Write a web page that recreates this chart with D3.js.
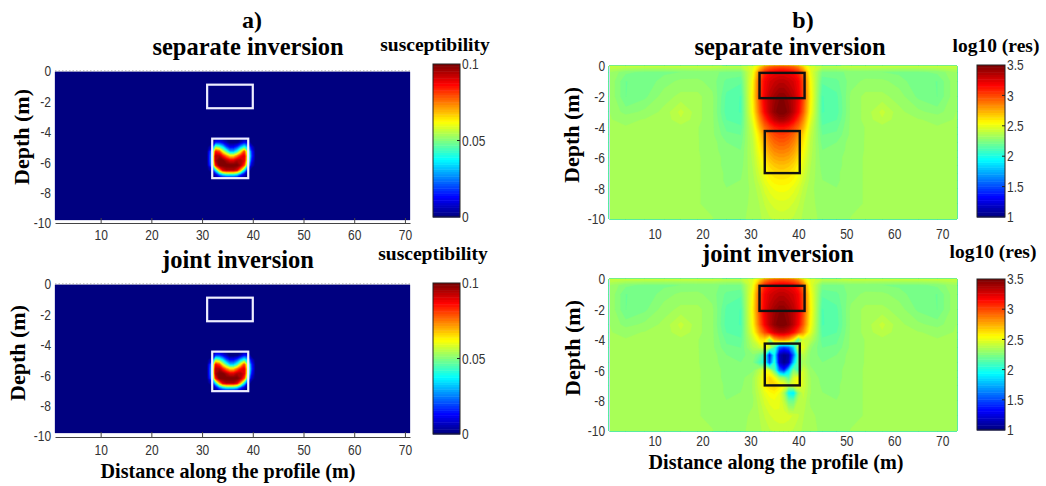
<!DOCTYPE html>
<html>
<head>
<meta charset="utf-8">
<script src="https://cdn.jsdelivr.net/npm/d3@7"></script>
<style>
  body { margin: 0; background: #fff; }
  svg text { font-family: "Liberation Serif", "Times New Roman", serif; }
  .tick text, .cb-label {
    font-family: "Liberation Sans", Arial, sans-serif;
    font-size: 15px;
    fill: #333;
    transform: scaleX(0.8);
    transform-box: fill-box;
  }
  .x-ax .tick text { transform-origin: center; }
  .y-ax .tick text { transform-origin: right; }
  .cb-label { transform-origin: left; }
</style>
</head>
<body>
<svg id="chart" width="1046" height="486"></svg>
<script>
// ---- data ----
// susceptibility model (SI), rows follow suscDepth, columns follow suscX
const suscX = [1, 31, 32, 32.7, 33.4, 34.1, 34.8, 35.5, 36.2, 36.9, 37.6, 38.3, 39, 39.7, 40.5, 71];
const suscDepth = [-0.05, -4.3, -4.7, -5.0, -5.3, -5.6, -5.9, -6.2, -6.5, -6.8, -7.1, -9.8];
const suscSeparate = [
  [0, 0, 0, 0, 0, 0, 0, 0, 0, 0, 0, 0, 0, 0, 0, 0],
  [0, 0, 0, 0, 0, 0, 0, 0, 0, 0, 0, 0, 0, 0, 0, 0],
  [0, 0, 0, 0.015, 0.015, 0.01, 0.005, 0, 0, 0, 0.005, 0.012, 0.01, 0, 0, 0],
  [0, 0, 0.01, 0.05, 0.045, 0.035, 0.02, 0.012, 0.012, 0.018, 0.03, 0.04, 0.03, 0.01, 0, 0],
  [0, 0, 0.03, 0.085, 0.08, 0.06, 0.045, 0.03, 0.03, 0.04, 0.06, 0.08, 0.05, 0.018, 0, 0],
  [0, 0, 0.035, 0.095, 0.095, 0.085, 0.075, 0.065, 0.065, 0.075, 0.085, 0.09, 0.055, 0.02, 0, 0],
  [0, 0, 0.035, 0.095, 0.1, 0.1, 0.095, 0.09, 0.09, 0.095, 0.095, 0.09, 0.05, 0.015, 0, 0],
  [0, 0, 0.03, 0.085, 0.1, 0.1, 0.1, 0.1, 0.1, 0.1, 0.095, 0.08, 0.035, 0.008, 0, 0],
  [0, 0, 0.01, 0.04, 0.07, 0.09, 0.095, 0.095, 0.095, 0.09, 0.07, 0.04, 0.012, 0, 0, 0],
  [0, 0, 0, 0.01, 0.025, 0.035, 0.04, 0.04, 0.04, 0.035, 0.02, 0.01, 0, 0, 0, 0],
  [0, 0, 0, 0, 0, 0, 0, 0, 0, 0, 0, 0, 0, 0, 0, 0],
  [0, 0, 0, 0, 0, 0, 0, 0, 0, 0, 0, 0, 0, 0, 0, 0]
];
const suscJoint = [
  [0, 0, 0, 0, 0, 0, 0, 0, 0, 0, 0, 0, 0, 0, 0, 0],
  [0, 0, 0, 0, 0, 0, 0, 0, 0, 0, 0, 0, 0, 0, 0, 0],
  [0, 0, 0, 0.018, 0.018, 0.012, 0.006, 0, 0, 0, 0.006, 0.014, 0.012, 0, 0, 0],
  [0, 0, 0.01, 0.052, 0.047, 0.036, 0.022, 0.014, 0.014, 0.02, 0.032, 0.042, 0.032, 0.01, 0, 0],
  [0, 0, 0.03, 0.086, 0.08, 0.06, 0.045, 0.032, 0.032, 0.042, 0.062, 0.08, 0.05, 0.018, 0, 0],
  [0, 0, 0.035, 0.095, 0.095, 0.085, 0.075, 0.066, 0.066, 0.076, 0.086, 0.09, 0.055, 0.02, 0, 0],
  [0, 0, 0.035, 0.095, 0.1, 0.1, 0.095, 0.09, 0.09, 0.095, 0.095, 0.09, 0.05, 0.015, 0, 0],
  [0, 0, 0.03, 0.085, 0.1, 0.1, 0.1, 0.1, 0.1, 0.1, 0.095, 0.08, 0.035, 0.008, 0, 0],
  [0, 0, 0.01, 0.04, 0.07, 0.09, 0.095, 0.095, 0.095, 0.09, 0.07, 0.04, 0.012, 0, 0, 0],
  [0, 0, 0, 0.01, 0.025, 0.035, 0.04, 0.04, 0.04, 0.035, 0.02, 0.01, 0, 0, 0, 0],
  [0, 0, 0, 0, 0, 0, 0, 0, 0, 0, 0, 0, 0, 0, 0, 0],
  [0, 0, 0, 0, 0, 0, 0, 0, 0, 0, 0, 0, 0, 0, 0, 0]
];

// log10 resistivity model, rows follow resDepth, columns follow resX
const resX = [0.5, 4, 8, 12, 15.5, 19, 22, 25, 28, 30.5, 32, 33, 34, 35, 36, 37, 38, 39, 40, 41, 42.5, 45, 48, 51, 54, 57.5, 61, 65, 69, 73.1];
const resDepth = [0, -0.4, -1, -2, -3, -3.5, -4, -4.5, -5, -5.5, -6, -6.5, -7, -7.5, -8, -9, -10];
const resSeparate = [
  [2.42,2.42,2.42,2.42,2.42,2.42,2.42,2.40,2.40,2.48,2.65,2.80,2.88,2.92,2.94,2.94,2.92,2.88,2.80,2.65,2.48,2.40,2.40,2.42,2.42,2.42,2.42,2.42,2.42,2.42],
  [2.33,2.26,2.24,2.24,2.25,2.26,2.26,2.24,2.24,2.50,2.90,3.08,3.16,3.20,3.22,3.22,3.20,3.16,3.08,2.90,2.50,2.24,2.24,2.26,2.26,2.25,2.24,2.24,2.26,2.33],
  [2.33,2.21,2.22,2.27,2.30,2.30,2.27,2.20,2.18,2.55,3.00,3.18,3.26,3.30,3.33,3.33,3.30,3.26,3.18,3.00,2.55,2.18,2.20,2.27,2.30,2.30,2.27,2.22,2.21,2.33],
  [2.33,2.21,2.24,2.31,2.34,2.34,2.30,2.16,2.13,2.58,3.02,3.22,3.33,3.40,3.45,3.45,3.40,3.33,3.22,3.02,2.58,2.13,2.16,2.30,2.34,2.34,2.31,2.24,2.21,2.33],
  [2.33,2.27,2.30,2.34,2.42,2.34,2.30,2.15,2.13,2.55,2.95,3.18,3.33,3.44,3.50,3.50,3.44,3.33,3.18,2.95,2.55,2.13,2.15,2.30,2.34,2.42,2.34,2.30,2.27,2.33],
  [2.33,2.32,2.33,2.34,2.40,2.34,2.30,2.17,2.15,2.50,2.85,3.05,3.20,3.32,3.38,3.38,3.32,3.20,3.05,2.85,2.50,2.15,2.17,2.30,2.34,2.40,2.34,2.33,2.32,2.33],
  [2.33,2.33,2.33,2.33,2.35,2.33,2.30,2.20,2.18,2.45,2.75,2.92,3.02,3.10,3.14,3.14,3.10,3.02,2.92,2.75,2.45,2.18,2.20,2.30,2.33,2.35,2.33,2.33,2.33,2.33],
  [2.33,2.33,2.33,2.33,2.33,2.33,2.30,2.22,2.21,2.42,2.65,2.82,2.93,3.00,3.03,3.03,3.00,2.93,2.82,2.65,2.42,2.21,2.22,2.30,2.33,2.33,2.33,2.33,2.33,2.33],
  [2.33,2.33,2.33,2.33,2.33,2.33,2.31,2.25,2.23,2.40,2.60,2.76,2.86,2.92,2.95,2.95,2.92,2.86,2.76,2.60,2.40,2.23,2.25,2.31,2.33,2.33,2.33,2.33,2.33,2.33],
  [2.33,2.33,2.33,2.33,2.33,2.33,2.31,2.26,2.25,2.39,2.56,2.70,2.79,2.85,2.87,2.87,2.85,2.79,2.70,2.56,2.39,2.25,2.26,2.31,2.33,2.33,2.33,2.33,2.33,2.33],
  [2.33,2.33,2.33,2.33,2.33,2.33,2.32,2.27,2.26,2.38,2.52,2.64,2.72,2.77,2.79,2.79,2.77,2.72,2.64,2.52,2.38,2.26,2.27,2.32,2.33,2.33,2.33,2.33,2.33,2.33],
  [2.33,2.33,2.33,2.33,2.33,2.33,2.32,2.27,2.27,2.37,2.49,2.58,2.65,2.69,2.71,2.71,2.69,2.65,2.58,2.49,2.37,2.27,2.27,2.32,2.33,2.33,2.33,2.33,2.33,2.33],
  [2.33,2.33,2.33,2.33,2.33,2.33,2.32,2.28,2.28,2.36,2.46,2.54,2.60,2.63,2.65,2.65,2.63,2.60,2.54,2.46,2.36,2.28,2.28,2.32,2.33,2.33,2.33,2.33,2.33,2.33],
  [2.33,2.33,2.33,2.33,2.33,2.33,2.32,2.28,2.29,2.35,2.43,2.50,2.55,2.58,2.59,2.59,2.58,2.55,2.50,2.43,2.35,2.29,2.28,2.32,2.33,2.33,2.33,2.33,2.33,2.33],
  [2.33,2.33,2.33,2.33,2.33,2.33,2.32,2.29,2.30,2.34,2.40,2.46,2.50,2.53,2.54,2.54,2.53,2.50,2.46,2.40,2.34,2.30,2.29,2.32,2.33,2.33,2.33,2.33,2.33,2.33],
  [2.33,2.33,2.33,2.33,2.33,2.33,2.32,2.30,2.31,2.34,2.37,2.41,2.44,2.46,2.47,2.47,2.46,2.44,2.41,2.37,2.34,2.31,2.30,2.32,2.33,2.33,2.33,2.33,2.33,2.33],
  [2.33,2.33,2.33,2.33,2.33,2.33,2.33,2.31,2.32,2.34,2.36,2.38,2.40,2.41,2.42,2.42,2.41,2.40,2.38,2.36,2.34,2.32,2.31,2.33,2.33,2.33,2.33,2.33,2.33,2.33]
];
// joint inversion differs from the separate one only around the lower body
const jointPatchX = [30.5, 32, 33, 34, 35, 36, 37, 38, 39, 40, 41, 42.5];
const jointPatchDepth = [-3.5, -4, -4.5, -5, -5.5, -6, -6.5, -7, -7.5, -8];
const resJointPatch = [
  [2.50, 2.82, 3.00, 3.15, 3.27, 3.33, 3.33, 3.27, 3.15, 3.00, 2.82, 2.50],
  [2.42, 2.60, 2.62, 2.25, 2.70, 2.80, 2.82, 2.75, 2.55, 2.15, 2.45, 2.40],
  [2.36, 2.42, 2.55, 2.45, 2.10, 1.55, 1.45, 1.55, 1.85, 2.45, 2.50, 2.30],
  [2.28, 2.20, 2.05, 1.35, 1.95, 1.15, 1.05, 1.10, 1.55, 2.15, 2.40, 2.28],
  [2.25, 2.10, 2.00, 1.50, 2.05, 1.20, 1.05, 1.15, 1.80, 2.20, 2.35, 2.28],
  [2.28, 2.40, 2.55, 2.45, 2.15, 1.60, 1.40, 1.85, 2.25, 2.10, 2.45, 2.30],
  [2.33, 2.45, 2.58, 2.65, 2.55, 2.35, 2.30, 2.15, 2.45, 2.55, 2.45, 2.33],
  [2.33, 2.45, 2.58, 2.65, 2.68, 2.62, 2.55, 2.40, 2.50, 2.55, 2.45, 2.33],
  [2.33, 2.42, 2.50, 2.55, 2.57, 2.52, 2.35, 1.95, 1.90, 2.30, 2.42, 2.33],
  [2.32, 2.40, 2.46, 2.50, 2.52, 2.50, 2.40, 2.20, 2.20, 2.38, 2.40, 2.32]
];

// outlines of the true bodies: [x0, x1, depthTop, depthBottom]
const suscBoxes = [[31.0, 40.0, -0.9, -2.45], [32.0, 39.1, -4.45, -7.05]];
const resBoxes = [[31.9, 41.3, -0.45, -2.1], [33.0, 40.3, -4.25, -7.0]];

const distanceTicks = [10, 20, 30, 40, 50, 60, 70];
const depthTicks = [0, -2, -4, -6, -8, -10];
const suscTicks = [0, 0.05, 0.1];
const resTicks = [1, 1.5, 2, 2.5, 3, 3.5];

// build joint resistivity grid from the separate one plus the patch
const resJoint = resSeparate.map(row => row.slice());
jointPatchDepth.forEach((d, r) => {
  const ri = resDepth.indexOf(d);
  jointPatchX.forEach((xv, c) => {
    resJoint[ri][resX.indexOf(xv)] = resJointPatch[r][c];
  });
});

// ---- drawing ----
const NLEV = 64;
const svg = d3.select("#chart");

const jet = (t) => {
  const c = v => Math.max(0, Math.min(1, v));
  return d3.rgb(
    255 * c(1.5 - Math.abs(4 * t - 3)),
    255 * c(1.5 - Math.abs(4 * t - 2)),
    255 * c(1.5 - Math.abs(4 * t - 1))
  ).formatHex();
};

const drawPanel = (p) => {
  const g = svg.append("g");
  const x = d3.scaleLinear().domain(p.xDomain).range([p.left, p.right]);
  const y = d3.scaleLinear().domain([0, -10]).range([p.top, p.bottom]);

  // filled contours of the model grid
  const n = p.xs.length;
  const m = p.ds.length;
  const ix = d3.scaleLinear().domain(d3.range(n)).range(p.xs).clamp(true);
  const iy = d3.scaleLinear().domain(d3.range(m)).range(p.ds).clamp(true);
  const proj = d3.geoTransform({
    point: function (px, py) {
      this.stream.point(x(ix(px - 0.5)), y(iy(py - 0.5)));
    },
  });
  const path = d3.geoPath(proj);
  const step = (p.vmax - p.vmin) / NLEV;
  const levels = d3.range(NLEV).map(i => p.vmin + i * step);
  const contours = d3.contours().size([n, m]).thresholds(levels)(p.grid.flat());

  g.append("g")
    .selectAll("path")
    .data(contours)
    .join("path")
    .attr("d", path)
    .attr("fill", (d, i) => jet(i / (NLEV - 1)))
    .attr("stroke", (d, i) => jet(i / (NLEV - 1)))
    .attr("stroke-width", 0.3);

  // body outlines
  g.append("g")
    .selectAll("rect")
    .data(p.boxes)
    .join("rect")
    .attr("x", d => x(d[0]))
    .attr("y", d => y(d[2]))
    .attr("width", d => x(d[1]) - x(d[0]))
    .attr("height", d => y(d[3]) - y(d[2]))
    .attr("fill", "none")
    .attr("stroke", p.boxColor)
    .attr("stroke-width", p.boxWidth);

  // axes
  const xAxis = g.append("g")
    .attr("class", "x-ax")
    .attr("transform", `translate(0,${p.axisY})`)
    .call(d3.axisBottom(x).tickValues(distanceTicks).tickFormat(d => String(d))
      .tickSizeInner(-5).tickSizeOuter(0).tickPadding(p.xPad));
  xAxis.select(".domain").attr("stroke", p.axisColor).attr("stroke-width", 1.2);
  xAxis.selectAll(".tick line").attr("stroke", p.axisColor);

  const yAxis = g.append("g")
    .attr("class", "y-ax")
    .attr("transform", `translate(${p.left},0)`)
    .call(d3.axisLeft(y).tickValues(depthTicks).tickFormat(d => String(d))
      .tickSize(0).tickPadding(4));
  yAxis.select(".domain").attr("stroke", p.leftLine);
  g.selectAll(".tick text").attr("font-size", null).attr("font-family", null);

  if (p.dotted) {
    g.append("line")
      .attr("x1", p.left).attr("x2", p.right)
      .attr("y1", p.top).attr("y2", p.top)
      .attr("stroke", "#999").attr("stroke-dasharray", "1.5,2");
  }

  // titles
  g.append("text")
    .attr("x", p.titleX).attr("y", p.titleY)
    .attr("text-anchor", "middle")
    .attr("font-weight", "bold").attr("font-size", 24.5)
    .text(p.title);

  g.append("text")
    .attr("transform", `translate(${p.depthX},${p.depthY}) rotate(-90) scale(1.1,1)`)
    .attr("text-anchor", "middle")
    .attr("font-weight", "bold").attr("font-size", 20)
    .attr("dy", "0.35em")
    .text("Depth (m)");

  if (p.xlabel) {
    g.append("text")
      .attr("transform", `translate(${p.xlabelX},${p.xlabelY}) scale(0.96,1)`)
      .attr("text-anchor", "middle")
      .attr("font-weight", "bold").attr("font-size", 21)
      .text(p.xlabel);
  }

  // colorbar
  const cb = d3.scaleLinear().domain([p.vmin, p.vmax]).range([p.cbBottom, p.cbTop]);
  const cbg = g.append("g");
  cbg.selectAll("rect")
    .data(levels)
    .join("rect")
    .attr("x", p.cbX)
    .attr("width", p.cbW)
    .attr("y", d => cb(d + step))
    .attr("height", d => cb(d) - cb(d + step) + 0.5)
    .attr("fill", (d, i) => jet(i / (NLEV - 1)));
  cbg.append("rect")
    .attr("x", p.cbX).attr("y", p.cbTop)
    .attr("width", p.cbW).attr("height", p.cbBottom - p.cbTop)
    .attr("fill", "none").attr("stroke", "#222").attr("stroke-width", 1);
  cbg.selectAll("line.cbt")
    .data(p.cbTicks.slice(1, -1))
    .join("line")
    .attr("class", "cbt")
    .attr("x1", p.cbX + p.cbW - 3).attr("x2", p.cbX + p.cbW)
    .attr("y1", d => cb(d)).attr("y2", d => cb(d))
    .attr("stroke", "#222");
  cbg.selectAll("text.cb-label")
    .data(p.cbTicks)
    .join("text")
    .attr("class", "cb-label")
    .attr("x", p.cbX + p.cbW + 2)
    .attr("y", d => cb(d))
    .attr("dy", "0.35em")
    .text(p.cbFormat);
  g.append("text")
    .attr("x", p.cbTitleX).attr("y", p.cbTitleY)
    .attr("text-anchor", "middle")
    .attr("font-weight", "bold").attr("font-size", 19.5)
    .text(p.cbTitle);
};

const suscFmt = d => (d === 0 ? "0" : String(d));
const resFmt = d => String(d);

const common = {
  a: {
    xs: suscX, ds: suscDepth, vmin: 0, vmax: 0.1, xDomain: [1, 71],
    left: 55, right: 410, boxes: suscBoxes, boxColor: "#eeeeff", boxWidth: 2.2,
    axisColor: "#444", leftLine: "none", dotted: true,
    cbX: 433, cbW: 27, cbTicks: suscTicks, cbFormat: suscFmt, cbTitle: "susceptibility",
  },
  b: {
    xs: resX, ds: resDepth, vmin: 1, vmax: 3.5, xDomain: [0.5, 73.1],
    left: 609, right: 957, boxes: resBoxes, boxColor: "#111", boxWidth: 2.4,
    axisColor: "none", leftLine: "#d6d6ee", dotted: false,
    cbX: 977, cbW: 28, cbTicks: resTicks, cbFormat: resFmt, cbTitle: "log10 (res)",
  },
};

drawPanel({
  ...common.a, grid: suscSeparate, top: 71, bottom: 223, axisY: 223, xPad: 6,
  title: "separate inversion", titleX: 248, titleY: 55,
  depthX: 22, depthY: 137, cbTop: 64, cbBottom: 217, cbTitleX: 435, cbTitleY: 51,
});
drawPanel({
  ...common.a, grid: suscJoint, top: 284, bottom: 436, axisY: 437, xPad: 7,
  title: "joint inversion", titleX: 238, titleY: 268,
  depthX: 18, depthY: 353, cbTop: 283, cbBottom: 434, cbTitleX: 433, cbTitleY: 260,
  xlabel: "Distance along the profile (m)", xlabelX: 228, xlabelY: 478,
});
drawPanel({
  ...common.b, grid: resSeparate, top: 66, bottom: 219, axisY: 219, xPad: 9,
  title: "separate inversion", titleX: 790, titleY: 55,
  depthX: 572, depthY: 135, cbTop: 65, cbBottom: 217, cbTitleX: 996, cbTitleY: 52,
});
drawPanel({
  ...common.b, grid: resJoint, top: 279, bottom: 431, axisY: 431, xPad: 4,
  title: "joint inversion", titleX: 778, titleY: 262,
  depthX: 573, depthY: 348, cbTop: 279, cbBottom: 430, cbTitleX: 993, cbTitleY: 258,
  xlabel: "Distance along the profile (m)", xlabelX: 776, xlabelY: 469,
});

svg.append("text").attr("x", 252).attr("y", 28).attr("text-anchor", "middle")
  .attr("font-weight", "bold").attr("font-size", 24).text("a)");
svg.append("text").attr("x", 803).attr("y", 28).attr("text-anchor", "middle")
  .attr("font-weight", "bold").attr("font-size", 24).text("b)");
</script>
</body>
</html>
